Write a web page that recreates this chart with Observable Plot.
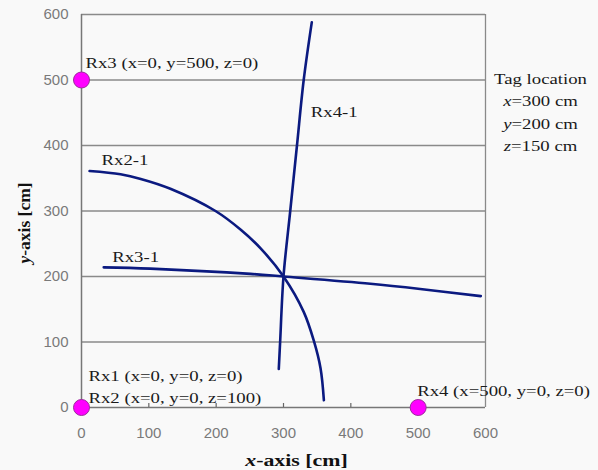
<!DOCTYPE html>
<html><head><meta charset="utf-8">
<script src="https://cdn.jsdelivr.net/npm/d3@7"></script>
<script src="https://cdn.jsdelivr.net/npm/@observablehq/plot@0.6"></script>
<style>
html,body{margin:0;padding:0;background:#f9f9f9;}
#chart svg{display:block;}
</style></head><body><div id="chart"></div>
<script>
// ---- data ----
const xTicks = [0, 100, 200, 300, 400, 500, 600];
const yTicks = [0, 100, 200, 300, 400, 500, 600];
const curveNames = ["Rx2-1", "Rx3-1", "Rx4-1"];
const rx21 = [[12,361],[58,356],[88,349],[132,334],[199,300],[237,271],[266,243],[300,200],[330,146],[345,102],[355,60],[360,11]];
const rx31 = [[33,214],[102,212],[251,204],[300,200],[429,189],[503,181],[593,170]];
const rx41 = [[293,59],[295,100],[300,200],[310,300],[320,400],[330,500],[342,588]];
const receiverX = [0, 0, 500];
const receiverY = [0, 500, 0];
const receiverLabels = ["Rx1 (x=0, y=0, z=0)", "Rx2 (x=0, y=0, z=100)", "Rx3 (x=0, y=500, z=0)", "Rx4 (x=500, y=0, z=0)"];
const tagLines = ["Tag location", "x=300 cm", "y=200 cm", "z=150 cm"];
const xTitle = "x-axis [cm]";
const yTitle = "y-axis [cm]";

// ---- styles ----
const serif = "'Liberation Serif','Times New Roman',serif";
const sans = "'Liberation Sans',Arial,sans-serif";
const navy = "#0b1a80";
const gridGray = "#8a8a8a";
const tickGray = "#7a7a7a";

const series = [rx21, rx31, rx41];
const curves = series.flatMap((arr, k) => arr.map(([x, y]) => ({x, y, name: curveNames[k]})));
const receivers = receiverX.map((x, i) => ({x, y: receiverY[i]}));
const at = (p, t) => [{x: p.x, y: p.y, t}];
const pt = (arr, i) => ({x: arr[i][0], y: arr[i][1]});

const lbl = (data, dx, dy) => Plot.text(data, {
  x: "x", y: "y", text: "t", textAnchor: "start", lineAnchor: "bottom",
  dx, dy, fontFamily: serif, fontSize: 15, fill: "#1a1a1a"
});

const chart = Plot.plot({
  width: 598, height: 470,
  marginLeft: 81, marginRight: 113, marginTop: 14, marginBottom: 63,
  style: {background: "#f9f9f9", overflow: "visible"},
  x: {domain: [0, 600], label: null},
  y: {domain: [0, 600], label: null},
  marks: [
    Plot.ruleY(yTicks.filter(d => d > 0), {stroke: gridGray, strokeWidth: 1.3}),
    Plot.ruleX([xTicks[xTicks.length - 1]], {stroke: gridGray, strokeWidth: 1.3}),
    Plot.ruleX([xTicks[0]], {stroke: "#777", strokeWidth: 1.5}),
    Plot.ruleY([yTicks[0]], {stroke: "#777", strokeWidth: 1.5}),
    // small inward ticks on the x axis
    Plot.ruleX(xTicks.slice(1, -1), {x: d => d, y1: yTicks[0], y2: yTicks[0], insetTop: -4, stroke: "#666", strokeWidth: 1.2}),
    Plot.axisX(xTicks, {tickSize: 0, tickPadding: 20, fontSize: 15, fontFamily: sans, fill: tickGray, label: null}),
    Plot.axisY(yTicks, {tickSize: 0, tickPadding: 13, fontSize: 15, fontFamily: sans, fill: tickGray, label: null}),
    Plot.line(curves, {x: "x", y: "y", z: "name", stroke: navy, strokeWidth: 2.6, curve: "catmull-rom"}),
    Plot.dot(receivers, {x: "x", y: "y", r: 8, fill: "#ff00ff", stroke: "#9b2d9b", strokeWidth: 1}),
    lbl(at(receivers[0], receiverLabels[0]), 7, -27),
    lbl(at(receivers[0], receiverLabels[1]), 7, -5),
    lbl(at(receivers[1], receiverLabels[2]), 4, -12),
    lbl(at(receivers[2], receiverLabels[3]), -1, -12),
    lbl(at(pt(rx21, 0), curveNames[0]), 12, -6),
    lbl(at(pt(rx31, 0), curveNames[1]), 8.5, -5),
    lbl(at(pt(rx41, rx41.length - 1), curveNames[2]), -1, 95),
    Plot.text([tagLines.join("\n")], {
      text: d => d, frameAnchor: "top-right", dx: 55, dy: 53.4,
      textAnchor: "middle", lineAnchor: "top", lineHeight: 1.5,
      fontFamily: serif, fontSize: 15, fill: "#1a1a1a"
    }),
    Plot.text([xTitle], {
      text: d => d, frameAnchor: "bottom", dx: 13, dy: 58,
      textAnchor: "middle", lineAnchor: "bottom",
      fontFamily: serif, fontSize: 17.5, fontWeight: "bold", fill: "#111"
    }),
    Plot.text([yTitle], {
      text: d => d, frameAnchor: "left", dx: -57, dy: 12, rotate: -90,
      textAnchor: "middle", lineAnchor: "middle",
      fontFamily: serif, fontSize: 17.5, fontWeight: "bold", fill: "#111"
    })
  ]
});
document.getElementById("chart").appendChild(chart);

// stretch serif texts horizontally (the reference's lettering is wide)
chart.querySelectorAll("g[font-family*='Liberation Serif'] text").forEach(t => {
  const tr = t.getAttribute("transform");
  if (tr && tr.includes("rotate")) return;
  if (tr) t.setAttribute("transform", tr + " scale(1.25,1)");
  else {
    const x = +t.getAttribute("x") || 0, y = +t.getAttribute("y") || 0;
    t.setAttribute("transform", `translate(${x},${y}) scale(1.25,1) translate(${-x},${-y})`);
  }
});
// italic variable letters
chart.querySelectorAll("text, tspan").forEach(el => {
  if (el.childNodes.length !== 1 || el.firstChild.nodeType !== 3) return;
  const s = el.textContent;
  const m = s.match(/^([xyz])([=\-].*)$/);
  if (!m) return;
  el.textContent = "";
  const it = document.createElementNS("http://www.w3.org/2000/svg", "tspan");
  it.setAttribute("font-style", "italic");
  it.textContent = m[1];
  el.appendChild(it);
  el.appendChild(document.createTextNode(m[2]));
});
</script>
</body></html>
